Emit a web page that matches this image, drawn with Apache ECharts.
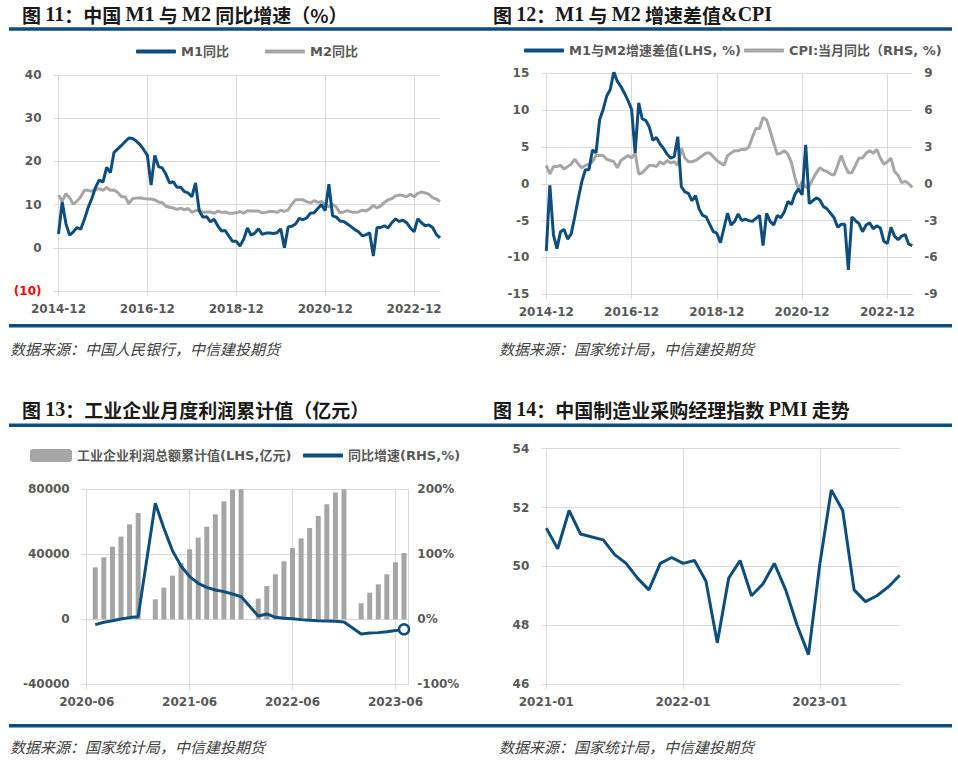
<!DOCTYPE html>
<html lang="zh-CN">
<head>
<meta charset="UTF-8">
<title>货币、通胀、利润与PMI</title>
<style>
html, body { margin: 0; padding: 0; background: #fff; }
#main { width: 958px; height: 766px; }
</style>
</head>
<body>
<div id="main"></div>
<script src="https://cdn.jsdelivr.net/npm/echarts/dist/echarts.min.js"></script>
<script>
// ---- 图11 / 图12 月度数据，2014-12 起 ----
var m1Yoy = [3.2,
  10.6, 5.6, 2.9, 3.7, 4.7, 4.3, 6.6, 9.3, 11.4, 14.0, 15.7, 15.2,
  18.6, 17.4, 22.1, 22.9, 23.7, 24.6, 25.4, 25.3, 24.7, 23.9, 22.7, 21.4,
  14.5, 21.4, 18.8, 18.5, 17.0, 15.0, 15.3, 14.0, 14.0, 13.0, 12.7, 11.8,
  15.0, 8.5, 7.1, 7.2, 6.0, 6.6, 5.1, 3.9, 4.0, 2.7, 1.5, 1.5,
  0.4, 2.0, 4.6, 2.9, 3.4, 4.4, 3.1, 3.4, 3.4, 3.3, 3.5, 4.4,
  0.0, 4.8, 5.0, 5.5, 6.8, 6.5, 6.9, 8.0, 8.1, 9.1, 10.0, 8.6,
  14.7, 7.4, 7.1, 6.2, 6.1, 5.5, 4.9, 4.2, 3.7, 2.8, 3.0, 3.5,
  -1.9, 4.7, 4.7, 5.1, 4.6, 5.8, 6.7, 6.1, 6.4, 5.8, 4.6, 3.7,
  6.7, 5.8, 5.1, 5.3, 4.7, 3.1, 2.3];
var m2Yoy = [12.2,
  10.8, 12.5, 11.6, 10.1, 10.8, 11.8, 13.3, 13.3, 13.1, 13.5, 13.7, 13.3,
  14.0, 13.3, 13.4, 12.8, 11.8, 11.8, 10.2, 11.4, 11.5, 11.6, 11.4, 11.3,
  11.3, 11.1, 10.6, 10.5, 9.6, 9.4, 9.2, 8.9, 9.2, 8.8, 9.1, 8.2,
  8.6, 8.8, 8.2, 8.3, 8.3, 8.0, 8.5, 8.2, 8.3, 8.0, 8.0, 8.1,
  8.4, 8.0, 8.6, 8.5, 8.5, 8.5, 8.1, 8.2, 8.4, 8.4, 8.2, 8.7,
  8.4, 8.8, 10.1, 11.1, 11.1, 11.1, 10.7, 10.4, 10.9, 10.5, 10.7, 10.1,
  9.4, 10.1, 9.4, 8.1, 8.3, 8.6, 8.3, 8.2, 8.3, 8.7, 8.5, 9.0,
  9.8, 9.2, 9.7, 10.5, 11.1, 11.4, 12.0, 12.2, 12.1, 11.8, 12.4, 11.8,
  12.6, 12.9, 12.7, 12.4, 11.6, 11.3, 10.7];
var m1m2Gap = [-9.1,
  -0.2, -6.9, -8.8, -6.5, -6.2, -7.5, -6.8, -4.5, -2.0, 0.3, 1.9, 1.9,
  4.6, 4.2, 8.7, 10.1, 11.9, 12.8, 15.2, 13.9, 13.2, 12.3, 11.3, 10.1,
  4.2, 11.0, 8.8, 8.6, 7.7, 5.9, 6.3, 5.4, 4.8, 4.0, 3.5, 3.7,
  6.4, -0.4, -1.1, -1.3, -2.3, -1.6, -3.4, -4.3, -4.5, -5.5, -6.5, -6.7,
  -8.0, -6.0, -4.0, -5.6, -5.1, -4.1, -5.0, -4.8, -5.0, -5.1, -4.7, -4.3,
  -8.4, -4.0, -5.1, -5.6, -4.3, -4.6, -3.8, -2.4, -2.8, -1.4, -0.7, -1.5,
  5.3, -2.7, -2.3, -1.9, -2.2, -3.1, -3.4, -4.0, -4.6, -5.9, -5.5, -5.5,
  -11.7, -4.5, -5.0, -5.4, -6.5, -5.6, -5.3, -6.1, -5.7, -6.0, -7.8, -8.1,
  -5.9, -7.1, -7.6, -7.1, -6.9, -8.2, -8.4];
var cpiYoy = [1.5,
  0.8, 1.4, 1.4, 1.5, 1.2, 1.4, 1.6, 2.0, 1.6, 1.3, 1.5, 1.6,
  1.8, 2.3, 2.3, 2.3, 2.0, 1.9, 1.8, 1.3, 1.9, 2.1, 2.3, 2.1,
  2.5, 0.8, 0.9, 1.2, 1.5, 1.5, 1.4, 1.8, 1.6, 1.9, 1.7, 1.8,
  1.5, 2.9, 2.1, 1.8, 1.8, 1.9, 2.1, 2.3, 2.5, 2.5, 2.2, 1.9,
  1.7, 1.5, 2.3, 2.5, 2.7, 2.7, 2.8, 2.8, 3.0, 3.8, 4.5, 4.5,
  5.4, 5.2, 4.3, 3.3, 2.4, 2.5, 2.7, 2.4, 1.7, 0.5, -0.5, 0.2,
  -0.3, -0.2, 0.4, 0.9, 1.3, 1.1, 1.0, 0.8, 0.7, 1.5, 2.3, 1.5,
  0.9, 0.9, 1.5, 2.1, 2.1, 2.5, 2.7, 2.5, 2.8, 2.1, 1.6, 1.8,
  2.1, 1.0, 0.7, 0.1, 0.2, 0.0, -0.3];
var moneyTicks = ['2014-12', '2016-12', '2018-12', '2020-12', '2022-12'];

// ---- 图13 工业企业利润（无1月数据） ----
var profitMonths = ['2020-07', '2020-08', '2020-09', '2020-10', '2020-11', '2020-12',
  '2021-02', '2021-03', '2021-04', '2021-05', '2021-06', '2021-07', '2021-08', '2021-09', '2021-10', '2021-11', '2021-12',
  '2022-02', '2022-03', '2022-04', '2022-05', '2022-06', '2022-07', '2022-08', '2022-09', '2022-10', '2022-11', '2022-12',
  '2023-02', '2023-03', '2023-04', '2023-05', '2023-06', '2023-07'];
var profitCum = [32000, 38150, 44700, 50900, 58450, 65400,
  12300, 19500, 26900, 34500, 43100, 50250, 57000, 64600, 72600, 79750, 87092,
  12700, 20500, 27700, 35700, 43900, 49800, 56200, 63600, 70800, 78100, 84000,
  9850, 16400, 21500, 27700, 35100, 40800];
var profitYoy = [-8.2, -4.6, -2.1, 0.5, 2.6, 4.1,
  178.5, 140, 105.6, 82, 65.6, 55.4, 49.2, 45.1, 42.6, 39, 34.9,
  5.1, 8.2, 3.1, 1.5, 1.0, -0.5, -1.5, -2.1, -2.6, -3.1, -4.1,
  -22.6, -21.0, -20.5, -19.0, -17.4, -15.4];
var profitTicks = ['2020-06', '2021-06', '2022-06', '2023-06'];

// ---- 图14 PMI，2021-01 起 ----
var pmiValues = [51.3, 50.6, 51.9, 51.1, 51.0, 50.9, 50.4, 50.1, 49.6, 49.2, 50.1, 50.3,
  50.1, 50.2, 49.5, 47.4, 49.6, 50.2, 49.0, 49.4, 50.1, 49.2, 48.0, 47.0,
  50.1, 52.6, 51.9, 49.2, 48.8, 49.0, 49.3, 49.7];
var pmiTicks = ['2021-01', '2022-01', '2023-01'];

var BLUE = '#0d4e7e';
var GRAY = '#a6a6a6';
var GRID = '#d9d9d9';
var LABEL = '#595959';
var FONT = '"DejaVu Sans", "Noto Sans CJK SC", sans-serif';

function monthSeq(start, n) {
  var y = +start.slice(0, 4), m = +start.slice(5, 7), out = [];
  for (var i = 0; i < n; i++) {
    out.push(y + '-' + (m < 10 ? '0' : '') + m);
    m++;
    if (m > 12) { m = 1; y++; }
  }
  return out;
}
function monthsFrom(base, label) {
  return (+label.slice(0, 4) - +base.slice(0, 4)) * 12 + (+label.slice(5, 7) - +base.slice(5, 7));
}
var moneyMonths = monthSeq('2014-12', m1Yoy.length);
var pmiMonths = monthSeq('2021-01', pmiValues.length);

// 标题：拉丁字符用粗体衬线，中文用常规字
function richTitle(s) {
  return s.replace(/([A-Za-z0-9&]+)|([^A-Za-z0-9&]+)/g, function (m, latin) {
    return latin ? '{b|' + m + '}' : '{a|' + m + '}';
  });
}
var titleRich = {
  a: { fontFamily: '"Noto Sans CJK SC"', fontSize: 19, color: '#1a1a1a' },
  b: { fontFamily: '"Liberation Serif"', fontWeight: 'bold', fontSize: 20, color: '#1a1a1a' }
};

var labelStyle = { color: LABEL, fontSize: 12, fontWeight: 'bold', fontFamily: FONT };
var sourceStyle = { fill: '#404040', fontSize: 15, fontStyle: 'italic', fontFamily: '"Noto Sans CJK SC"', verticalAlign: 'middle' };

function catX(grid, data, ticks) {
  var pick = function (i, v) { return ticks.indexOf(v) >= 0; };
  return {
    gridIndex: grid, type: 'category', data: data, boundaryGap: false,
    axisLine: { onZero: false, lineStyle: { color: GRID } },
    axisTick: { show: true, length: 5, interval: pick, lineStyle: { color: GRID } },
    axisLabel: Object.assign({ interval: pick, margin: 12 }, labelStyle),
    splitLine: { show: true, interval: pick, lineStyle: { color: GRID } }
  };
}
function valY(grid, min, max, step, extra) {
  return Object.assign({
    gridIndex: grid, type: 'value', min: min, max: max, interval: step,
    axisLine: { show: false, onZero: false },
    axisTick: { show: true, length: 5, lineStyle: { color: GRID } },
    axisLabel: Object.assign({ margin: 17 }, labelStyle),
    splitLine: { show: true, lineStyle: { color: GRID } }
  }, extra || {});
}
function lineLegend(name, left, top, color) {
  return {
    data: [{ name: name, icon: 'roundRect', itemStyle: { color: color } }],
    left: left, top: top, padding: 0, itemWidth: 40, itemHeight: 4,
    textStyle: { color: LABEL, fontSize: 13, fontWeight: 'bold', fontFamily: FONT }
  };
}
function source(text, x, y) {
  return { type: 'text', x: x, y: y, style: Object.assign({ text: text }, sourceStyle) };
}
function rule(y) {
  return { type: 'line', shape: { x1: 9, y1: y, x2: 952, y2: y }, style: { stroke: BLUE, lineWidth: 3.5 } };
}

var chart = echarts.init(document.getElementById('main'), null, { renderer: 'svg' });

var option = {
  animation: false,
  backgroundColor: '#fff',
  title: [
    { text: richTitle('图 11：中国 M1 与 M2 同比增速（%）'), left: 22, top: 4, padding: 0, textStyle: { rich: titleRich } },
    { text: richTitle('图 12：M1 与 M2 增速差值&CPI'), left: 493, top: 4, padding: 0, textStyle: { rich: titleRich } },
    { text: richTitle('图 13：工业企业月度利润累计值（亿元）'), left: 22, top: 399, padding: 0, textStyle: { rich: titleRich } },
    { text: richTitle('图 14：中国制造业采购经理指数 PMI 走势'), left: 493, top: 399, padding: 0, textStyle: { rich: titleRich } }
  ],
  legend: [
    lineLegend('M1同比', 136, 45, BLUE),
    lineLegend('M2同比', 265, 45, GRAY),
    lineLegend('M1与M2增速差值(LHS, %)', 524, 44, BLUE),
    lineLegend('CPI:当月同比（RHS, %)', 744, 44, GRAY),
    {
      data: [{ name: '工业企业利润总额累计值(LHS,亿元)', icon: 'roundRect', itemStyle: { color: GRAY } }],
      left: 30, top: 449, padding: 0, itemWidth: 42, itemHeight: 13,
      textStyle: { color: LABEL, fontSize: 13, fontWeight: 'bold', fontFamily: FONT }
    },
    lineLegend('同比增速(RHS,%)', 303, 449, BLUE)
  ],
  grid: [
    { left: 58.5, top: 75, width: 381.5, height: 216, outerBoundsMode: 'none' },
    { left: 546.3, top: 73.3, width: 366, height: 221, outerBoundsMode: 'none' },
    { left: 86.7, top: 489.3, width: 321.6, height: 195, outerBoundsMode: 'none' },
    { left: 546.3, top: 448.7, width: 353.4, height: 235.3, outerBoundsMode: 'none' }
  ],
  xAxis: [
    catX(0, moneyMonths, moneyTicks),
    catX(1, moneyMonths, moneyTicks),
    {
      gridIndex: 2, type: 'value', min: 0, max: 37.5, interval: 12,
      axisLine: { onZero: false, lineStyle: { color: GRID } },
      axisTick: { show: true, length: 5, lineStyle: { color: GRID } },
      axisLabel: Object.assign({
        margin: 12, showMaxLabel: false,
        formatter: function (v) { return v % 12 === 0 ? profitTicks[v / 12] : ''; }
      }, labelStyle),
      splitLine: { show: true, lineStyle: { color: GRID } }
    },
    catX(3, pmiMonths, pmiTicks)
  ],
  yAxis: [
    valY(0, -10, 40, 10, {
      axisLabel: Object.assign({}, labelStyle, {
        margin: 17,
        formatter: function (v) { return v < 0 ? '(' + (-v) + ')' : v; },
        color: function (v) { return Number(v) < 0 ? '#ff0000' : LABEL; }
      })
    }),
    valY(1, -15, 15, 5),
    valY(1, -9, 9, 3, {
      position: 'right',
      axisTick: { show: false },
      splitLine: { show: false },
      axisLabel: Object.assign({ margin: 12 }, labelStyle)
    }),
    valY(2, -40000, 80000, 40000, {
      axisLabel: Object.assign({ margin: 17, formatter: function (v) { return String(v); } }, labelStyle)
    }),
    valY(2, -100, 200, 100, {
      position: 'right',
      axisTick: { show: false },
      splitLine: { show: false },
      axisLabel: Object.assign({ margin: 9, formatter: '{value}%' }, labelStyle)
    }),
    valY(3, 46, 54, 2)
  ],
  graphic: [
    rule(29), rule(325.7), rule(425.3), rule(725.7),
    source('数据来源：中国人民银行，中信建投期货', 10, 348),
    source('数据来源：国家统计局，中信建投期货', 499, 348),
    source('数据来源：国家统计局，中信建投期货', 10, 746.5),
    source('数据来源：国家统计局，中信建投期货', 499, 746.5)
  ],
  series: [
    { name: 'M2同比', type: 'line', xAxisIndex: 0, yAxisIndex: 0, data: m2Yoy, color: GRAY,
      showSymbol: false, lineStyle: { width: 3, color: GRAY } },
    { name: 'M1同比', type: 'line', xAxisIndex: 0, yAxisIndex: 0, data: m1Yoy, color: BLUE,
      showSymbol: false, lineStyle: { width: 3, color: BLUE } },
    { name: 'CPI:当月同比（RHS, %)', type: 'line', xAxisIndex: 1, yAxisIndex: 2, data: cpiYoy, color: GRAY,
      showSymbol: false, lineStyle: { width: 3, color: GRAY } },
    { name: 'M1与M2增速差值(LHS, %)', type: 'line', xAxisIndex: 1, yAxisIndex: 1, data: m1m2Gap, color: BLUE,
      showSymbol: false, lineStyle: { width: 3, color: BLUE } },
    { name: '工业企业利润总额累计值(LHS,亿元)', type: 'bar', xAxisIndex: 2, yAxisIndex: 3, color: GRAY,
      barWidth: 5, clip: true, itemStyle: { color: '#a5a5a5' },
      data: profitMonths.map(function (m, i) { return [monthsFrom('2020-06', m), profitCum[i]]; }) },
    { name: '同比增速(RHS,%)', type: 'line', xAxisIndex: 2, yAxisIndex: 4, color: BLUE, z: 5,
      showSymbol: true, showAllSymbol: true, lineStyle: { width: 3, color: BLUE },
      data: profitMonths.map(function (m, i) {
        var pt = [monthsFrom('2020-06', m), profitYoy[i]];
        if (i === profitMonths.length - 1) {
          return { value: pt, symbol: 'circle', symbolSize: 10,
            itemStyle: { color: '#fff', borderColor: BLUE, borderWidth: 2.5 } };
        }
        return { value: pt, symbol: 'none' };
      }) },
    { name: 'PMI', type: 'line', xAxisIndex: 3, yAxisIndex: 5, data: pmiValues, color: BLUE,
      showSymbol: false, lineStyle: { width: 3, color: BLUE } }
  ]
};

chart.setOption(option);
</script>
</body>
</html>
